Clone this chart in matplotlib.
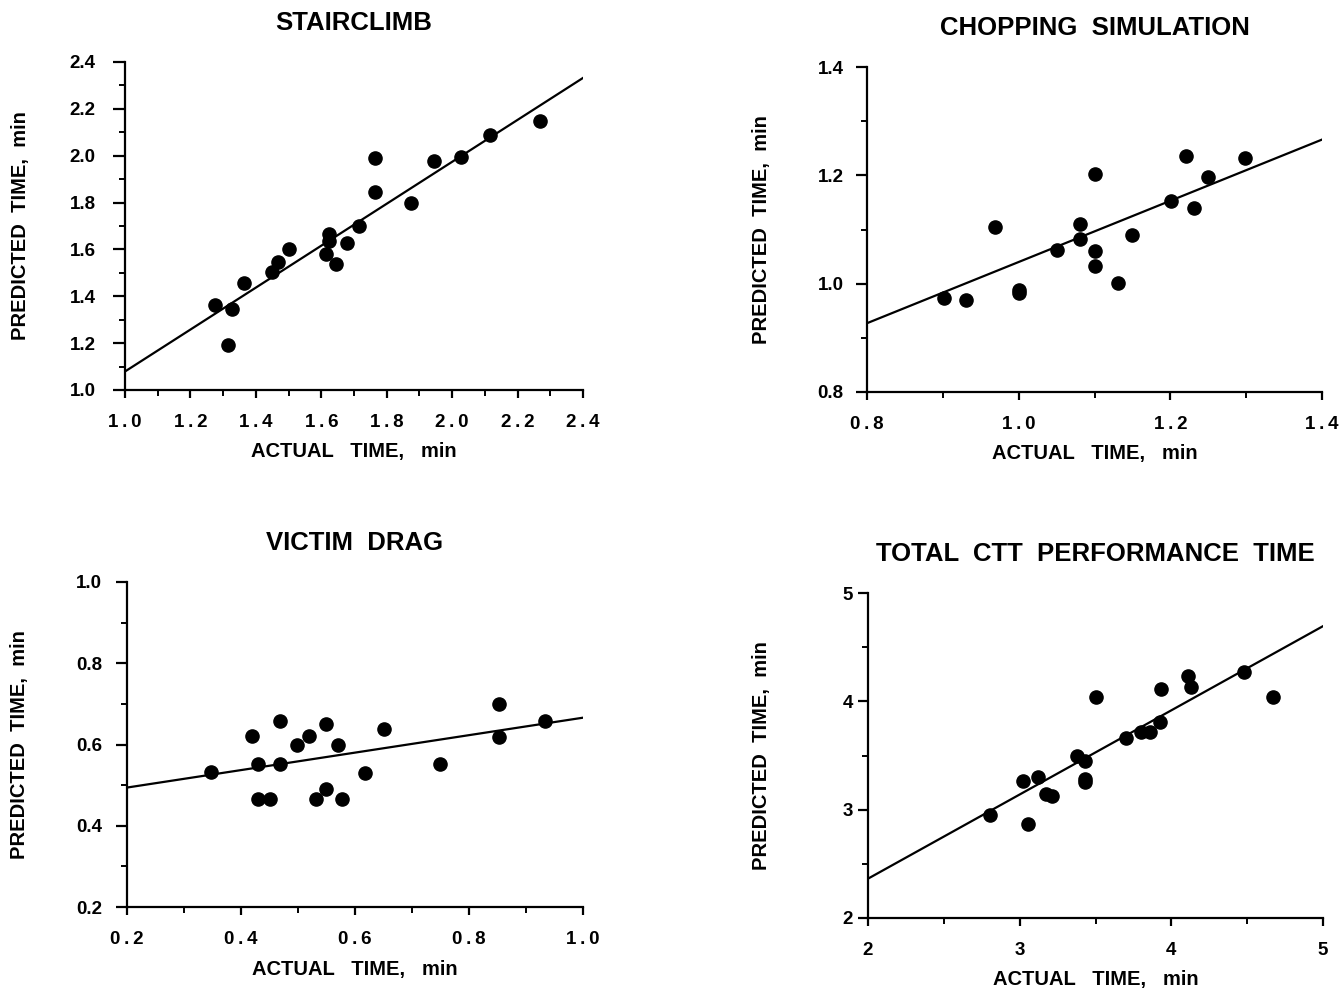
import numpy as np
import matplotlib
matplotlib.use("Agg")
import matplotlib.pyplot as plt
from matplotlib.ticker import MultipleLocator, FuncFormatter

plt.rcParams['font.family'] = ['Liberation Sans', 'DejaVu Sans']
plt.rcParams['font.weight'] = 'bold'

# STAIRCLIMB
stair_x = [1.276, 1.327, 1.314, 1.364, 1.449, 1.467, 1.500, 1.614, 1.624, 1.624,
           1.645, 1.678, 1.714, 1.765, 1.765, 1.874, 1.944, 2.026, 2.115, 2.270]
stair_y = [1.364, 1.347, 1.190, 1.457, 1.503, 1.547, 1.600, 1.581, 1.664, 1.636,
           1.537, 1.629, 1.700, 1.843, 1.989, 1.797, 1.979, 1.996, 2.090, 2.150]
stair_fit = (1.079, 0.895)  # intercept at x=1.0, slope

# CHOPPING SIMULATION
chop_x = [0.901, 0.931, 0.969, 1.000, 1.000, 1.051, 1.081, 1.081, 1.101, 1.101,
          1.101, 1.131, 1.149, 1.201, 1.221, 1.231, 1.250, 1.299]
chop_y = [0.973, 0.969, 1.104, 0.988, 0.982, 1.062, 1.110, 1.083, 1.203, 1.061,
          1.033, 1.002, 1.090, 1.153, 1.236, 1.140, 1.197, 1.232]
chop_fit = (0.927, 0.565)  # intercept at x=0.8

# VICTIM DRAG
drag_x = [0.348, 0.419, 0.429, 0.429, 0.451, 0.469, 0.469, 0.499, 0.520, 0.549,
          0.549, 0.532, 0.571, 0.578, 0.618, 0.651, 0.749, 0.852, 0.852, 0.933]
drag_y = [0.532, 0.621, 0.553, 0.465, 0.465, 0.659, 0.553, 0.600, 0.621, 0.650,
          0.490, 0.465, 0.600, 0.465, 0.531, 0.639, 0.551, 0.700, 0.618, 0.659]
drag_fit = (0.494, 0.215)  # intercept at x=0.2

# TOTAL CTT PERFORMANCE TIME
total_x = [2.805, 3.020, 3.055, 3.121, 3.173, 3.213, 3.375, 3.432, 3.432, 3.432,
           3.502, 3.704, 3.798, 3.857, 3.925, 3.934, 4.110, 4.127, 4.478, 4.671]
total_y = [2.954, 3.262, 2.871, 3.302, 3.148, 3.123, 3.492, 3.452, 3.280, 3.255,
           4.040, 3.662, 3.717, 3.714, 3.809, 4.117, 4.231, 4.132, 4.268, 4.037]
total_fit = (2.363, 0.777)  # intercept at x=2

fig = plt.figure(figsize=(13.43, 9.92), dpi=100)
W, H = 1343.0, 992.0


def spaced(fmt):
    return FuncFormatter(lambda v, p: '\u2009'.join(fmt.format(v)))


def panel(box, x, y, fit, lims, xstep, ystep, fmt, title, ylab_x, ypad, ylen):
    l, r, t, b = box
    ax = fig.add_axes([l / W, 1 - b / H, (r - l) / W, (b - t) / H])
    w, h = r - l, b - t
    ax.scatter(x, y, s=90, color='black', zorder=3, clip_on=False)
    xs = np.array(lims)
    ax.plot(xs, fit[0] + fit[1] * (xs - lims[0]), color='black', lw=1.6)
    ax.set_xlim(lims)
    ax.set_ylim(lims)
    ax.xaxis.set_major_locator(MultipleLocator(xstep))
    ax.xaxis.set_minor_locator(MultipleLocator(xstep / 2))
    ax.yaxis.set_major_locator(MultipleLocator(ystep))
    ax.yaxis.set_minor_locator(MultipleLocator(ystep / 2))
    ax.xaxis.set_major_formatter(spaced(fmt))
    ax.yaxis.set_major_formatter(FuncFormatter(lambda v, p: fmt.format(v)))
    for s in ['top', 'right']:
        ax.spines[s].set_visible(False)
    for s in ['left', 'bottom']:
        ax.spines[s].set_linewidth(1.6)
    ax.tick_params(which='major', direction='out', length=6, width=1.6, labelsize=13.5)
    ax.tick_params(which='minor', direction='out', length=4, width=1.4)
    ax.tick_params(axis='x', which='major', pad=11)
    ax.tick_params(axis='y', which='major', pad=ypad, length=ylen)
    ax.set_xlabel('ACTUAL   TIME,   min', fontsize=14.5, fontweight='bold')
    ax.xaxis.label.set_va('center')
    ax.xaxis.set_label_coords(0.5, -62 / h)
    ax.set_ylabel('PREDICTED  TIME,  min', fontsize=14.5, fontweight='bold')
    ax.yaxis.label.set_va('center')
    ax.yaxis.set_label_coords((ylab_x - l) / w, 0.5)
    ax.text(0.5, 1 + 39 / h, title, transform=ax.transAxes, ha='center', va='center',
            fontsize=18.5, fontweight='bold')
    return ax


panel((125, 583, 62, 390), stair_x, stair_y, stair_fit, (1.0, 2.4), 0.2, 0.2,
      '{:.1f}', 'STAIRCLIMB', 20, 12, 9)
panel((867, 1322, 67, 392), chop_x, chop_y, chop_fit, (0.8, 1.4), 0.2, 0.2,
      '{:.1f}', 'CHOPPING  SIMULATION', 762, 9, 8)
panel((127, 583, 582, 907), drag_x, drag_y, drag_fit, (0.2, 1.0), 0.2, 0.2,
      '{:.1f}', 'VICTIM  DRAG', 20, 10, 8)
panel((868, 1323, 593, 918), total_x, total_y, total_fit, (2, 5), 1, 1,
      '{:.0f}', 'TOTAL  CTT  PERFORMANCE  TIME', 762, 4, 7)

fig.savefig('out.png', dpi=100)
